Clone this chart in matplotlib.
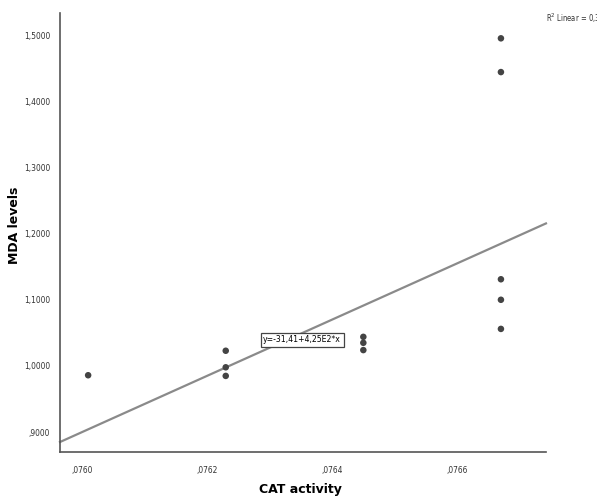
import numpy as np
import matplotlib
matplotlib.use("Agg")
import matplotlib.pyplot as plt
from matplotlib import font_manager
from matplotlib.ticker import FixedLocator, FixedFormatter

# Data
cat_activity = [0.07601, 0.07623, 0.07623, 0.07623, 0.07645, 0.07645, 0.07645,
                0.07667, 0.07667, 0.07667, 0.07667, 0.07667]
mda_levels = [0.986, 1.023, 0.998, 0.985, 1.044, 1.035, 1.024,
              1.495, 1.444, 1.131, 1.100, 1.056]

# Fit line as drawn in the reference (equation label: y=-31,41+4,25E2*x)
fit_intercept = -31.40
fit_slope = 425.0

x_ticks = [0.0760, 0.0762, 0.0764, 0.0766]
x_tick_labels = [",0760", ",0762", ",0764", ",0766"]
y_ticks = [0.9, 1.0, 1.1, 1.2, 1.3, 1.4, 1.5]
y_tick_labels = [",9000", "1,0000", "1,1000", "1,2000", "1,3000", "1,4000", "1,5000"]
equation_text = "y=-31,41+4,25E2*x"
r2_text = "R$^2$ Linear = 0,3"

cond = {}
for f in font_manager.fontManager.ttflist:
    if f.stretch in ("condensed", "semi-condensed", 600, 700) or "Condensed" in f.fname or "Narrow" in f.fname:
        cond[f.fname] = f.name
narrow_path = None
for p in sorted(cond):
    if "DejaVuSansCondensed.ttf" in p or "LiberationSansNarrow-Regular" in p:
        narrow_path = p
        break
narrow_fp = font_manager.FontProperties(fname=narrow_path) if narrow_path else font_manager.FontProperties(family="DejaVu Sans")

fig = plt.figure(figsize=(5.97, 4.97), dpi=100)
ax = fig.add_axes([0.1005, 0.0905, 0.814, 0.883])

xmin, xmax = 0.075965, 0.076742
ymin, ymax = 0.870, 1.533
ax.set_xlim(xmin, xmax)
ax.set_ylim(ymin, ymax)

ax.scatter(cat_activity, mda_levels, s=22, color="#444444", zorder=3, edgecolors="none")

xs = np.array([xmin, xmax])
ax.plot(xs, fit_intercept + fit_slope * xs, color="#8a8a8a", lw=1.6, zorder=2, clip_on=False)

for s in ["top", "right"]:
    ax.spines[s].set_visible(False)
for s in ["left", "bottom"]:
    ax.spines[s].set_color("#555555")
    ax.spines[s].set_linewidth(1.2)

ax.xaxis.set_major_locator(FixedLocator(x_ticks))
ax.xaxis.set_major_formatter(FixedFormatter(x_tick_labels))
ax.yaxis.set_major_locator(FixedLocator(y_ticks))
ax.yaxis.set_major_formatter(FixedFormatter(y_tick_labels))
ax.tick_params(axis="both", length=0, colors="#333333", pad=7)
ax.tick_params(axis="x", pad=10)
for lab in ax.get_xticklabels() + ax.get_yticklabels():
    lab.set_fontproperties(narrow_fp)
    lab.set_fontsize(6)

fig.text(300 / 597, 1 - 489 / 497, "CAT activity", fontsize=9, fontweight="bold",
         ha="center", va="center")
fig.text(15 / 597, 1 - 225 / 497, "MDA levels", fontsize=9, fontweight="bold",
         ha="center", va="center", rotation=90)

eq = ax.text(0.076352, 1.0393, equation_text, ha="center", va="center",
             bbox=dict(boxstyle="square,pad=0.3", fc="white", ec="#444444", lw=0.9), zorder=4)
eq.set_fontproperties(narrow_fp)
eq.set_fontsize(6.2)

r2 = fig.text(546 / 597, 1 - 18 / 497, r2_text, ha="left", va="center", color="#333333")
r2.set_fontproperties(narrow_fp)
r2.set_fontsize(5.5)

fig.savefig("out.png", dpi=100)
